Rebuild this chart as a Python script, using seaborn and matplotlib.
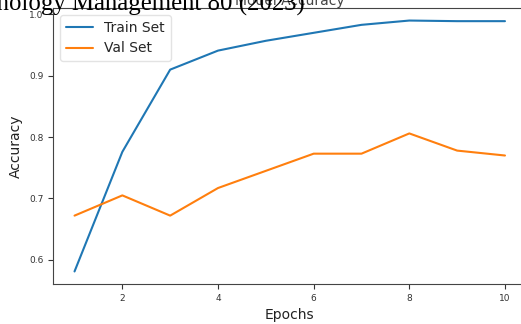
import numpy as np
import pandas as pd
import matplotlib
matplotlib.use("Agg")
import matplotlib.pyplot as plt
import seaborn as sns

# Values.
epochs = [1, 2, 3, 4, 5, 6, 7, 8, 9, 10]
train_acc = [0.581, 0.776, 0.910, 0.941, 0.957, 0.970, 0.983, 0.990, 0.989, 0.989]
val_acc = [0.672, 0.705, 0.672, 0.717, 0.745, 0.773, 0.773, 0.806, 0.778, 0.770]
series_names = ["Train Set", "Val Set"]

sns.set_style("ticks")
plt.rcParams["font.family"] = ["DejaVu Sans"]

df = pd.DataFrame({
    "Epochs": epochs * 2,
    "Accuracy": train_acc + val_acc,
    "Set": [series_names[0]] * len(epochs) + [series_names[1]] * len(epochs),
})

fig = plt.figure(figsize=(5.21, 3.24), dpi=100)
# Axes runs slightly past the right edge, as in the cropped reference.
ax = fig.add_axes([53 / 521, 40 / 324, 473.5 / 521, 276 / 324])

sns.lineplot(data=df, x="Epochs", y="Accuracy", hue="Set",
             palette=["#1f77b4", "#ff7f0e"], linewidth=1.5, ax=ax)

ax.set_xticks([2, 4, 6, 8, 10])
ax.set_yticks([0.6, 0.7, 0.8, 0.9, 1.0])
ax.tick_params(labelsize=6.5, colors="#333333", length=3.5, width=0.8)
ax.set_xlabel("Epochs", fontsize=10, color="#222222")
ax.set_ylabel("Accuracy", fontsize=10, color="#222222")
ax.set_title("Model Accuracy", fontsize=10, color="#444444", pad=2)
for sp in ax.spines.values():
    sp.set_visible(True)
    sp.set_color("#444444")
    sp.set_linewidth(0.8)

leg = ax.legend(title=None, loc="upper left", fontsize=10, frameon=True)
leg.get_frame().set_edgecolor("#dddddd")

# Page header text overlapping the top of the figure in the reference.
fig.text(305 / 521, 1 - 11 / 324, "Technology Management 80 (2023)",
         ha="right", va="baseline", fontsize=17.8,
         family=["Liberation Serif", "DejaVu Serif"], color="black")

fig.savefig("out.png", dpi=100)
